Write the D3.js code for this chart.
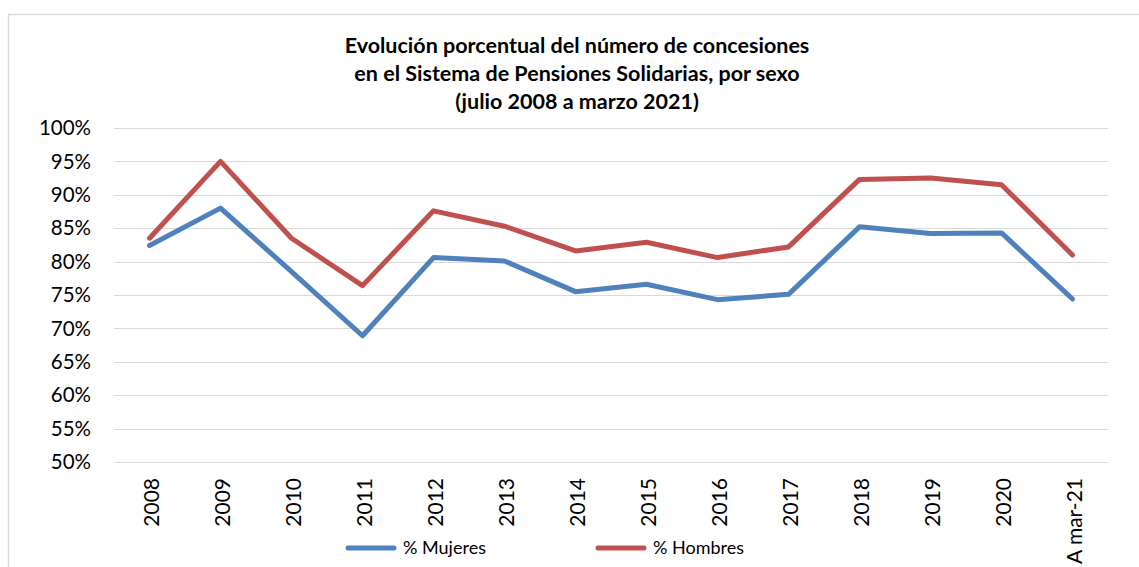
<!doctype html>
<html>
<head>
    <meta charset="utf-8">
    <title>Evolución porcentual</title>
    <style>
        body { margin: 0; background: #FFFFFF; }
        svg { display: block; font-family: Lato, "Open Sans", sans-serif; }
        .grid line { stroke: #D9D9D9; stroke-width: 1.5; shape-rendering: crispEdges; }
        .title { font-weight: bold; font-size: 21.5px; fill: #000000; }
        .tick-y { font-size: 20.5px; fill: #000000; }
        .tick-x { font-size: 21px; fill: #000000; }
        .legend text { font-size: 18px; fill: #000000; }
    </style>
</head>
<body>
    <div id="chart"></div>

    <script src="https://d3js.org/d3.v7.min.js"></script>
    <script>
        var categories = ['2008', '2009', '2010', '2011', '2012', '2013', '2014',
            '2015', '2016', '2017', '2018', '2019', '2020', 'A mar-21'];
        var mujeres = [82.4, 88.0, 78.5, 68.9, 80.6, 80.1, 75.5, 76.6, 74.3, 75.1, 85.2, 84.2, 84.3, 74.4];
        var hombres = [83.5, 95.0, 83.5, 76.4, 87.6, 85.3, 81.6, 82.9, 80.6, 82.2, 92.3, 92.5, 91.5, 81.0];
        var y_ticks = [50, 55, 60, 65, 70, 75, 80, 85, 90, 95, 100];
        var title_lines = ['Evolución porcentual del número de concesiones',
            'en el Sistema de Pensiones Solidarias, por sexo',
            '(julio 2008 a marzo 2021)'];
        var series = [
            { name: '% Mujeres', values: mujeres, color: '#4F81BD' },
            { name: '% Hombres', values: hombres, color: '#C0504D' }
        ];

        var svg_width = 1139;
        var svg_height = 567;
        var plot = { left: 114, right: 1108, top: 128, bottom: 462 };

        var svg = d3.select('#chart').append('svg')
            .attr('width', svg_width)
            .attr('height', svg_height);

        // chart frame (only top and left edges are visible in the crop)
        svg.append('path')
            .attr('d', 'M8.5,' + svg_height + 'V14.5H' + svg_width)
            .attr('fill', 'none')
            .attr('stroke', '#D9D9D9')
            .attr('stroke-width', 1.5);

        var x = d3.scaleBand()
            .domain(categories)
            .range([plot.left, plot.right]);

        var y = d3.scaleLinear()
            .domain([50, 100])
            .range([plot.bottom, plot.top]);

        svg.append('g')
            .attr('class', 'grid')
          .selectAll('line')
            .data(y_ticks)
          .enter().append('line')
            .attr('x1', plot.left)
            .attr('x2', plot.right)
            .attr('y1', function(d) { return Math.round(y(d)) + 0.5; })
            .attr('y2', function(d) { return Math.round(y(d)) + 0.5; });

        svg.append('g')
          .selectAll('text')
            .data(y_ticks)
          .enter().append('text')
            .attr('class', 'tick-y')
            .attr('x', 91)
            .attr('y', function(d) { return y(d); })
            .attr('dy', '0.35em')
            .attr('text-anchor', 'end')
            .text(function(d) { return d + '%'; });

        svg.append('g')
          .selectAll('text')
            .data(categories)
          .enter().append('text')
            .attr('class', 'tick-x')
            .attr('transform', function(d) {
                return 'translate(' + (x(d) + x.bandwidth() / 2 + 9) + ',478) rotate(-90)';
            })
            .attr('text-anchor', 'end')
            .text(function(d) { return d; });

        var line = d3.line()
            .x(function(d, i) { return x(categories[i]) + x.bandwidth() / 2; })
            .y(function(d) { return y(d); });

        svg.append('g')
          .selectAll('path')
            .data(series)
          .enter().append('path')
            .attr('d', function(d) { return line(d.values); })
            .attr('fill', 'none')
            .attr('stroke', function(d) { return d.color; })
            .attr('stroke-width', 5)
            .attr('stroke-linejoin', 'round')
            .attr('stroke-linecap', 'round');

        svg.append('g')
            .attr('class', 'title')
          .selectAll('text')
            .data(title_lines)
          .enter().append('text')
            .attr('x', 577)
            .attr('y', function(d, i) { return 53 + i * 28; })
            .attr('text-anchor', 'middle')
            .text(function(d) { return d; });

        var legend_x = [348, 598];
        var legend = svg.append('g')
            .attr('class', 'legend')
          .selectAll('g')
            .data(series)
          .enter().append('g')
            .attr('transform', function(d, i) { return 'translate(' + legend_x[i] + ',548)'; });

        legend.append('line')
            .attr('x1', 0)
            .attr('x2', 46)
            .attr('stroke', function(d) { return d.color; })
            .attr('stroke-width', 5)
            .attr('stroke-linecap', 'round');

        legend.append('text')
            .attr('x', 55)
            .attr('dy', '0.35em')
            .text(function(d) { return d.name; });
    </script>
</body>
</html>
